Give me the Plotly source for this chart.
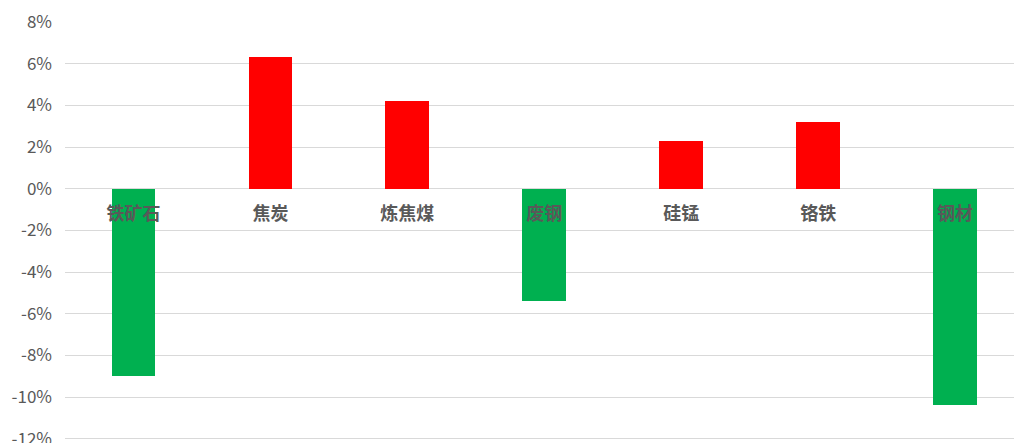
import plotly.graph_objects as go

categories = ["铁矿石", "焦炭", "炼焦煤", "废钢", "硅锰", "铬铁", "钢材"]
changes = [-9.0, 6.3, 4.2, -5.4, 2.3, 3.2, -10.4]  # percent
y_ticks = [8, 6, 4, 2, 0, -2, -4, -6, -8, -10, -12]

colors = ["#FF0000" if v >= 0 else "#00B050" for v in changes]

fig = go.Figure(
    go.Bar(
        x=categories,
        y=changes,
        marker=dict(color=colors, line=dict(width=0)),
        width=0.32,
    )
)

y_min, y_max = -12.2, 8
zero_pos = (0 - y_min) / (y_max - y_min)

fig.update_layout(
    width=1014,
    height=443,
    margin=dict(l=65, r=0, t=22, b=0, autoexpand=False),
    paper_bgcolor="white",
    plot_bgcolor="white",
    showlegend=False,
    font=dict(family="Noto Sans CJK SC, Noto Sans, sans-serif", color="#595959"),
    bargap=0,
)

fig.update_xaxes(
    type="category",
    range=[-0.5, 6.43],
    anchor="free",
    position=zero_pos,
    showline=False,
    showgrid=False,
    ticks="",
    automargin=False,
    ticklabelstandoff=12,
    tickfont=dict(size=18, color="#595959", weight="bold"),
)

fig.update_yaxes(
    range=[y_min, y_max],
    tickvals=y_ticks,
    ticktext=[f"{v}%" for v in y_ticks],
    showgrid=True,
    gridcolor="#D9D9D9",
    gridwidth=1,
    zeroline=True,
    zerolinecolor="#D9D9D9",
    zerolinewidth=1,
    showline=False,
    ticks="",
    automargin=False,
    ticklabelstandoff=12,
    ticklabeloverflow="allow",
    tickfont=dict(size=17, color="#595959"),
)

fig.write_html("out.html")
